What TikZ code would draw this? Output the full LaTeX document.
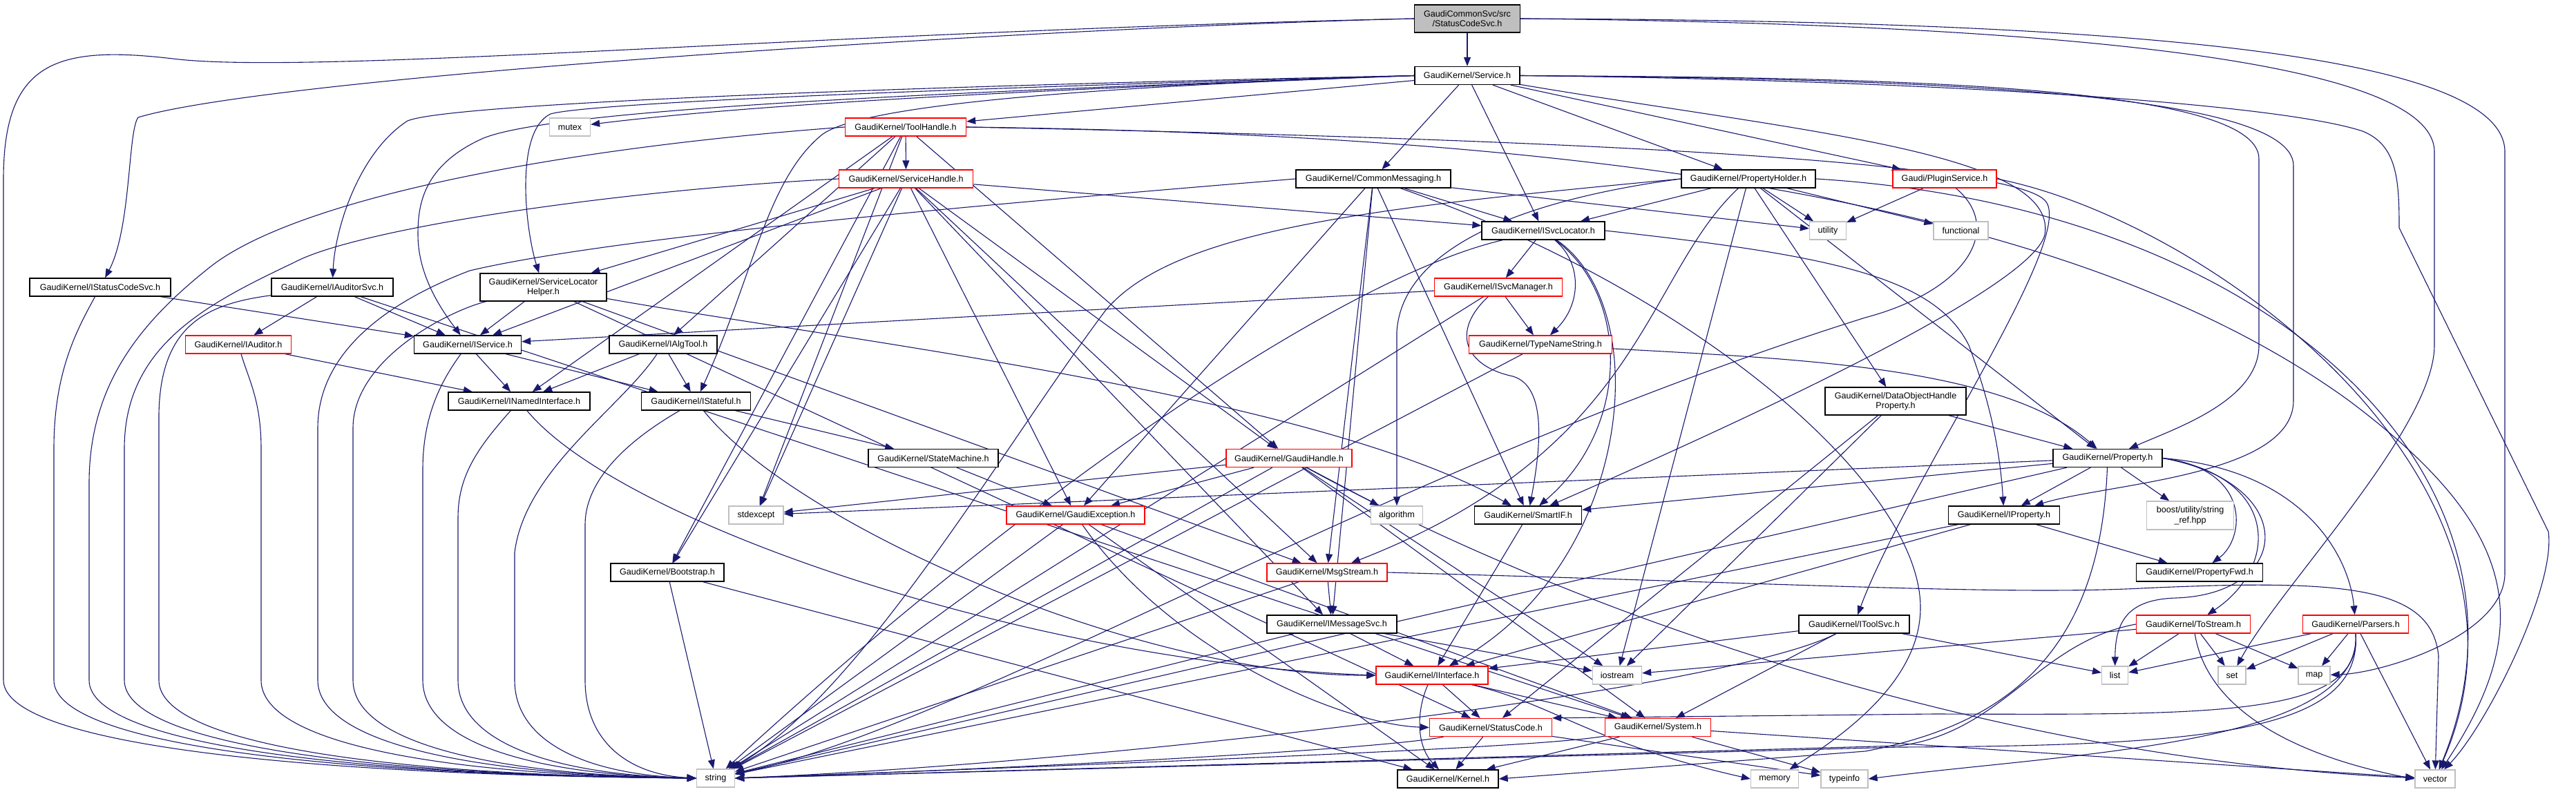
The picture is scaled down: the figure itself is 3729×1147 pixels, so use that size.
\documentclass[tikz,border=0pt]{standalone}
\usepackage{fontspec}
\setmainfont{Liberation Sans}
\usetikzlibrary{arrows.meta}
\pgfdeclarelayer{back}
\pgfdeclarelayer{edges}
\pgfsetlayers{back,edges,main}
\definecolor{edgec}{RGB}{25,25,112}
\definecolor{redc}{RGB}{255,0,0}
\definecolor{grayc}{RGB}{191,191,191}
\tikzset{
  nb/.style={draw=black, fill=white, line width=1.3pt, minimum height=26, inner sep=1pt,
    font=\fontsize{12.6}{14.5}\selectfont},
  nr/.style={nb, draw=redc},
  ng/.style={nb, draw=grayc},
  e/.style={draw=edgec, line width=1.1pt, -{Triangle[length=13pt,width=10pt]}},
}
\begin{document}
\begin{tikzpicture}[x=1pt,y=-1pt]
\useasboundingbox (0,0) rectangle (3729,1147);
\begin{pgfonlayer}{back}
\fill[white] (0,0) rectangle (3729,1147);
\end{pgfonlayer}
% nodes
\node[nb, fill=grayc, minimum width=153, minimum height=40, align=center] (root) at (2124,27) {GaudiCommonSvc/src\\/StatusCodeSvc.h};
\node[nb, minimum width=152] (Service) at (2124,109.5) {GaudiKernel/Service.h};
\node[ng, minimum width=59] (mutex) at (825,184) {mutex};
\node[nr, minimum width=175] (ToolHandle) at (1311,184) {GaudiKernel/ToolHandle.h};
\node[nr, minimum width=194] (ServiceHandle) at (1311.6,259) {GaudiKernel/ServiceHandle.h};
\node[nb, minimum width=224] (CommonMessaging) at (1988,259) {GaudiKernel/CommonMessaging.h};
\node[nb, minimum width=194] (PropertyHolder) at (2531,259) {GaudiKernel/PropertyHolder.h};
\node[nr, minimum width=150] (PluginService) at (2815,259) {Gaudi/PluginService.h};
\node[nb, minimum width=178] (ISvcLocator) at (2234,334) {GaudiKernel/ISvcLocator.h};
\node[ng, minimum width=53] (utility) at (2646,334) {utility};
\node[ng, minimum width=79] (functional) at (2838.5,334) {functional};
\node[nb, minimum width=204] (IStatusCodeSvc) at (145,416) {GaudiKernel/IStatusCodeSvc.h};
\node[nb, minimum width=176] (IAuditorSvc) at (481,416) {GaudiKernel/IAuditorSvc.h};
\node[nb, minimum width=183, minimum height=40, align=center] (SLH) at (786.5,416) {GaudiKernel/ServiceLocator\\Helper.h};
\node[nr, minimum width=185] (ISvcManager) at (2169,416) {GaudiKernel/ISvcManager.h};
\node[nr, minimum width=153] (IAuditor) at (345,499) {GaudiKernel/IAuditor.h};
\node[nb, minimum width=155] (IService) at (677,499) {GaudiKernel/IService.h};
\node[nb, minimum width=156] (IAlgTool) at (960,499) {GaudiKernel/IAlgTool.h};
\node[nr, minimum width=207] (TypeNameString) at (2230,499) {GaudiKernel/TypeNameString.h};
\node[nb, minimum width=205] (INamedInterface) at (751.5,581) {GaudiKernel/INamedInterface.h};
\node[nb, minimum width=158] (IStateful) at (1007.6,581) {GaudiKernel/IStateful.h};
\node[nb, minimum width=204, minimum height=40, align=center] (DOHP) at (2744,581) {GaudiKernel/DataObjectHandle\\Property.h};
\node[nb, minimum width=188] (StateMachine) at (1351,663.5) {GaudiKernel/StateMachine.h};
\node[nr, minimum width=182] (GaudiHandle) at (1866,663.5) {GaudiKernel/GaudiHandle.h};
\node[nb, minimum width=158] (Property) at (3051,663.5) {GaudiKernel/Property.h};
\node[ng, minimum width=79] (stdexcept) at (1094.5,746) {stdexcept};
\node[nr, minimum width=200] (GaudiException) at (1557,746) {GaudiKernel/GaudiException.h};
\node[ng, minimum width=75] (algorithm) at (2022,746) {algorithm};
\node[nb, minimum width=155] (SmartIF) at (2212,746) {GaudiKernel/SmartIF.h};
\node[nb, minimum width=161] (IProperty) at (2901,746) {GaudiKernel/IProperty.h};
\node[ng, minimum width=126, minimum height=41, align=center] (boost) at (3170.6,746.5) {boost/utility/string\\\_ref.hpp};
\node[nb, minimum width=164] (Bootstrap) at (966,829) {GaudiKernel/Bootstrap.h};
\node[nr, minimum width=174] (MsgStream) at (1921,829) {GaudiKernel/MsgStream.h};
\node[nb, minimum width=183] (PropertyFwd) at (3184,829) {GaudiKernel/PropertyFwd.h};
\node[nb, minimum width=188] (IMessageSvc) at (1928,904) {GaudiKernel/IMessageSvc.h};
\node[nb, minimum width=160] (IToolSvc) at (2684,904) {GaudiKernel/IToolSvc.h};
\node[nr, minimum width=165] (ToStream) at (3175,904) {GaudiKernel/ToStream.h};
\node[nr, minimum width=153] (Parsers) at (3410,904) {GaudiKernel/Parsers.h};
\node[nr, minimum width=162] (IInterface) at (2073,978) {GaudiKernel/IInterface.h};
\node[ng, minimum width=71] (iostream) at (2341,978) {iostream};
\node[ng, minimum width=38] (list) at (3061.6,978) {list};
\node[ng, minimum width=40] (set) at (3231,978) {set};
\node[ng, minimum width=46] (map) at (3350,978) {map};
\node[nr, minimum width=177] (StatusCode) at (2158,1053.5) {GaudiKernel/StatusCode.h};
\node[nr, minimum width=153] (System) at (2400,1053.5) {GaudiKernel/System.h};
\node[ng, minimum width=55] (string) at (1036,1127) {string};
\node[nb, minimum width=146] (Kernel) at (2096,1128) {GaudiKernel/Kernel.h};
\node[ng, minimum width=69] (memory) at (2569,1128) {memory};
\node[ng, minimum width=68] (typeinfo) at (2670,1128) {typeinfo};
\node[ng, minimum width=58] (vector) at (3525,1128) {vector};

\begin{pgfonlayer}{edges}
% root
\draw[e] (root) -- (Service);
\draw[e] (root.west) .. controls (1500,40) and (400,110) .. (200,170) .. controls (185,190) and (190,330) .. (IStatusCodeSvc);
\draw[e] (root.west) .. controls (1200,45) and (450,110) .. (250,85) .. controls (80,65) and (5,90) .. (5,260) -- (5,985) .. controls (5,1075) and (406,1122) .. (string.west);
\draw[e] (root.east) .. controls (3000,35) and (3524,90) .. (3524,220) -- (3524,500) .. controls (3524,620) and (3300,850) .. (set);
\draw[e] (root.east) .. controls (3100,30) and (3626,80) .. (3626,220) -- (3626,830) .. controls (3626,920) and (3450,975) .. (map);
% Service
\draw[e] (Service.west) .. controls (1500,130) and (1100,150) .. (mutex);
\draw[e] (Service) -- (ToolHandle);
\draw[e] (Service) -- (CommonMessaging);
\draw[e] (Service) -- (ISvcLocator);
\draw[e] (Service) -- (PropertyHolder);
\draw[e] (Service) -- (PluginService);
\draw[e] (Service.west) .. controls (1300,125) and (650,150) .. (590,175) .. controls (520,220) and (485,330) .. (IAuditorSvc);
\draw[e] (Service.west) .. controls (1300,130) and (850,150) .. (797,165) .. controls (745,190) and (760,330) .. (SLH);
\draw[e] (Service.west) .. controls (1300,135) and (800,160) .. (700,200) .. controls (610,240) and (605,300) .. (605,340) .. controls (605,400) and (640,450) .. (IService);
\draw[e] (Service.west) .. controls (1600,125) and (1250,150) .. (1190,195) .. controls (1110,260) and (1090,400) .. (IStateful);
\draw[e] (Service) .. controls (2600,190) and (2980,220) .. (2960,340) .. controls (2940,420) and (2500,620) .. (SmartIF);
\draw[e] (Service.east) .. controls (2700,112) and (3270,120) .. (3270,230) -- (3270,500) .. controls (3270,580) and (3150,620) .. (Property);
\draw[e] (Service.east) .. controls (2700,114) and (3320,125) .. (3320,240) -- (3320,580) .. controls (3320,690) and (3050,700) .. (IProperty);
\draw[e] (Service.east) .. controls (2800,116) and (3300,150) .. (3420,190) .. controls (3470,210) and (3473,260) .. (3473,330) -- (3689,770) .. controls (3700,850) and (3600,1050) .. (vector);
% ToolHandle
\draw[e] (ToolHandle) -- (ServiceHandle);
\draw[e] (ToolHandle.west) .. controls (800,215) and (420,290) .. (300,390) .. controls (200,470) and (129,560) .. (129,700) -- (129,985) .. controls (129,1075) and (481,1122) .. (string.west);
\draw[e] (ToolHandle) -- (GaudiHandle);
\draw[e] (ToolHandle) -- (IAlgTool);
\draw[e] (ToolHandle) -- (INamedInterface);
\draw[e] (ToolHandle) -- (stdexcept);
\draw[e] (ToolHandle) -- (Bootstrap);
\draw[e] (ToolHandle.east) .. controls (2200,200) and (2900,230) .. (2960,290) .. controls (3010,340) and (2760,700) .. (IToolSvc);
\draw[e] (ToolHandle.east) .. controls (2300,195) and (3000,290) .. (3400,580) .. controls (3640,760) and (3677,900) .. (vector);
% ServiceHandle
\draw[e] (ServiceHandle.west) .. controls (900,275) and (520,330) .. (426,380) .. controls (300,440) and (180,500) .. (180,650) -- (180,985) .. controls (180,1075) and (511,1122) .. (string.west);
\draw[e] (ServiceHandle) -- (SLH);
\draw[e] (ServiceHandle) -- (ISvcLocator);
\draw[e] (ServiceHandle) -- (GaudiHandle);
\draw[e] (ServiceHandle) -- (GaudiException);
\draw[e] (ServiceHandle) -- (MsgStream);
\draw[e] (ServiceHandle) -- (IMessageSvc);
\draw[e] (ServiceHandle) -- (IService);
\draw[e] (ServiceHandle) -- (Bootstrap);
\draw[e] (ServiceHandle) -- (stdexcept);
% CommonMessaging
\draw[e] (CommonMessaging) -- (ISvcLocator);
\draw[e] (CommonMessaging) -- (utility);
\draw[e] (CommonMessaging) -- (GaudiException);
\draw[e] (CommonMessaging) -- (MsgStream);
\draw[e] (CommonMessaging) -- (IMessageSvc);
\draw[e] (CommonMessaging) -- (SmartIF);
\draw[e] (CommonMessaging) .. controls (2450,420) and (2780,700) .. (2780,880) .. controls (2780,990) and (2660,1070) .. (memory);
\draw[e] (CommonMessaging.west) .. controls (1500,290) and (900,340) .. (680,392) .. controls (580,430) and (460,500) .. (460,620) -- (460,985) .. controls (460,1075) and (679,1122) .. (string.west);
% PropertyHolder
\draw[e] (PropertyHolder) -- (ISvcLocator);
\draw[e] (PropertyHolder) -- (utility);
\draw[e] (PropertyHolder) -- (functional);
\draw[e] (PropertyHolder) -- (DOHP);
\draw[e] (PropertyHolder) -- (Property);
\draw[e] (PropertyHolder.west) .. controls (2200,290) and (2030,360) .. (2022,480) -- (algorithm);
\draw[e] (PropertyHolder) .. controls (2380,400) and (2380,650) .. (MsgStream);
\draw[e] (PropertyHolder) -- (iostream);
\draw[e] (PropertyHolder.west) .. controls (2000,300) and (1700,330) .. (1600,450) .. controls (1450,650) and (1250,1000) .. (string);
\draw[e] (PropertyHolder.east) .. controls (3300,300) and (3701,700) .. (vector);
% PluginService
\draw[e] (PluginService) -- (utility);
\draw[e] (PluginService) .. controls (2900,330) and (2850,420) .. (2700,460) .. controls (2000,680) and (1400,1050) .. (string);
\draw[e] (PluginService.east) .. controls (3200,320) and (3713,700) .. (vector);
% ISvcLocator
\draw[e] (ISvcLocator) -- (ISvcManager);
\draw[e] (ISvcLocator) .. controls (2290,380) and (2290,440) .. (TypeNameString);
\draw[e] (ISvcLocator) .. controls (2360,430) and (2360,620) .. (SmartIF);
\draw[e] (ISvcLocator) .. controls (2400,450) and (2360,820) .. (IInterface);
\draw[e] (ISvcLocator) .. controls (1950,400) and (1500,700) .. (string);
\draw[e] (ISvcLocator.east) .. controls (2650,370) and (2800,400) .. (2850,500) .. controls (2880,580) and (2895,650) .. (IProperty);
% ISvcManager
\draw[e] (ISvcManager) -- (IService);
\draw[e] (ISvcManager) -- (TypeNameString);
\draw[e] (ISvcManager) .. controls (2100,480) and (2120,530) .. (2190,545) .. controls (2240,560) and (2230,650) .. (SmartIF);
\draw[e] (ISvcManager) -- (string);
% TypeNameString
\draw[e] (TypeNameString) .. controls (2600,520) and (2900,530) .. (Property);
\draw[e] (TypeNameString) -- (string);
% IStatusCodeSvc
\draw[e] (IStatusCodeSvc) -- (IService);
\draw[e] (IStatusCodeSvc) .. controls (110,480) and (78,540) .. (78,650) -- (78,985) .. controls (78,1075) and (450,1122) .. (string.west);
% IAuditorSvc
\draw[e] (IAuditorSvc) -- (IService);
\draw[e] (IAuditorSvc) -- (IAuditor);
\draw[e] (IAuditorSvc) .. controls (300,440) and (232,470) .. (230,600) -- (230,985) .. controls (230,1075) and (541,1122) .. (string.west);
\draw[e] (IAuditorSvc) -- (System);
% SLH
\draw[e] (SLH) -- (IService);
\draw[e] (SLH) .. controls (1200,490) and (1900,570) .. (SmartIF);
\draw[e] (SLH) -- (MsgStream);
\draw[e] (SLH) -- (StatusCode);
\draw[e] (SLH) .. controls (650,450) and (511,520) .. (511,620) -- (511,985) .. controls (511,1075) and (710,1122) .. (string.west);
% IAuditor
\draw[e] (IAuditor) -- (INamedInterface);
\draw[e] (IAuditor) .. controls (360,550) and (378,580) .. (378,650) -- (378,985) .. controls (378,1075) and (630,1122) .. (string.west);
% IService
\draw[e] (IService) -- (INamedInterface);
\draw[e] (IService) -- (IStateful);
\draw[e] (IService) .. controls (640,550) and (612,600) .. (612,680) -- (612,985) .. controls (612,1075) and (770,1122) .. (string.west);
% IAlgTool
\draw[e] (IAlgTool) -- (IStateful);
\draw[e] (IAlgTool) -- (INamedInterface);
\draw[e] (IAlgTool) .. controls (900,590) and (760,680) .. (745,800) -- (745,985) .. controls (745,1075) and (850,1122) .. (string.west);
% INamedInterface
\draw[e] (INamedInterface) .. controls (900,760) and (1500,960) .. (IInterface.west);
\draw[e] (INamedInterface) .. controls (690,650) and (663,690) .. (663,750) -- (663,985) .. controls (663,1075) and (801,1122) .. (string.west);
% IStateful
\draw[e] (IStateful) -- (StateMachine);
\draw[e] (IStateful) .. controls (1150,760) and (1650,980) .. (IInterface.west);
\draw[e] (IStateful) .. controls (940,620) and (847,680) .. (847,760) -- (847,985) .. controls (847,1075) and (911,1122) .. (string.west);
% DOHP
\draw[e] (DOHP) -- (Property);
\draw[e] (DOHP) -- (iostream);
\draw[e] (DOHP) -- (StatusCode);
% StateMachine
\draw[e] (StateMachine) -- (GaudiException);
% GaudiHandle
\draw[e] (GaudiHandle) -- (GaudiException);
\draw[e] (GaudiHandle) -- (stdexcept);
\draw[e] (GaudiHandle) -- (string);
\draw[e] (GaudiHandle) -- (algorithm);
\draw[e] (GaudiHandle) -- (iostream);
\draw[e] (GaudiHandle) -- (System);
\draw[e] (GaudiHandle) .. controls (2300,900) and (2900,1100) .. (vector);
% Property
\draw[e] (Property) -- (IProperty);
\draw[e] (Property) -- (boost);
\draw[e] (Property.east) .. controls (3260,680) and (3250,780) .. (PropertyFwd);
\draw[e] (Property.east) .. controls (3300,690) and (3300,820) .. (ToStream);
\draw[e] (Property.east) .. controls (3330,680) and (3400,800) .. (Parsers);
\draw[e] (Property.east) .. controls (3330,700) and (3320,860) .. (3150,866) .. controls (3080,868) and (3062,900) .. (list);
\draw[e] (Property) -- (SmartIF);
\draw[e] (Property) -- (stdexcept);
\draw[e] (Property) -- (string);
\draw[e] (Property) .. controls (3040,950) and (2900,1050) .. (2700,1088) -- (Kernel.east);
% IProperty
\draw[e] (IProperty) -- (PropertyFwd);
\draw[e] (IProperty) -- (IInterface);
\draw[e] (IProperty) -- (string);
% IToolSvc
\draw[e] (IToolSvc) -- (list);
\draw[e] (IToolSvc) -- (IInterface);
\draw[e] (IToolSvc) -- (System);
\draw[e] (IToolSvc) .. controls (2500,1000) and (1600,1105) .. (string.east);
% ToStream
\draw[e] (ToStream) -- (list);
\draw[e] (ToStream) -- (set);
\draw[e] (ToStream) -- (map);
\draw[e] (ToStream) -- (iostream);
\draw[e] (ToStream) .. controls (3200,1060) and (3400,1110) .. (vector.west);
\draw[e] (ToStream.west) .. controls (2950,930) and (2900,1060) .. (2750,1080) -- (string.east);
% Parsers
\draw[e] (Parsers) -- (list);
\draw[e] (Parsers) -- (set);
\draw[e] (Parsers) -- (map);
\draw[e] (Parsers) -- (vector);
\draw[e] (Parsers.south) .. controls (3420,1040) and (3200,1035) .. (2800,1034) -- (StatusCode.north east);
\draw[e] (Parsers.south) .. controls (3420,1060) and (3200,1080) .. (2750,1082) -- (string.east);
\draw[e] (Parsers.south) .. controls (3420,1080) and (3000,1090) .. (typeinfo.east);
% MsgStream
\draw[e] (MsgStream) -- (IMessageSvc);
\draw[e] (MsgStream) -- (string);
\draw[e] (MsgStream.east) .. controls (2600,845) and (2900,862) .. (3100,852) .. controls (3400,838) and (3520,850) .. (3530,950) -- (vector);
% IMessageSvc
\draw[e] (IMessageSvc) -- (IInterface);
\draw[e] (IMessageSvc) -- (iostream);
\draw[e] (IMessageSvc) -- (string);
% Bootstrap
\draw[e] (Bootstrap) -- (string);
\draw[e] (Bootstrap) -- (Kernel);
% GaudiException
\draw[e] (GaudiException) -- (string);
\draw[e] (GaudiException) .. controls (1700,950) and (1950,1050) .. (StatusCode.west);
\draw[e] (GaudiException) -- (System);
\draw[e] (GaudiException) -- (Kernel);
% SmartIF
\draw[e] (SmartIF) -- (IInterface);
% IInterface
\draw[e] (IInterface) -- (StatusCode);
\draw[e] (IInterface) -- (System);
\draw[e] (IInterface) .. controls (2050,1030) and (2050,1080) .. (Kernel);
\draw[e] (IInterface) .. controls (2250,1020) and (2300,1075) .. (memory.west);
% StatusCode
\draw[e] (StatusCode) -- (Kernel);
\draw[e] (StatusCode) -- (typeinfo);
\draw[e] (StatusCode) .. controls (2000,1085) and (1500,1112) .. (string.east);
% System
\draw[e] (System) -- (Kernel);
\draw[e] (System) -- (typeinfo);
\draw[e] (System) -- (vector);
\draw[e] (System) .. controls (2250,1078) and (2000,1092) .. (string.east);
\end{pgfonlayer}
\end{tikzpicture}
\end{document}
